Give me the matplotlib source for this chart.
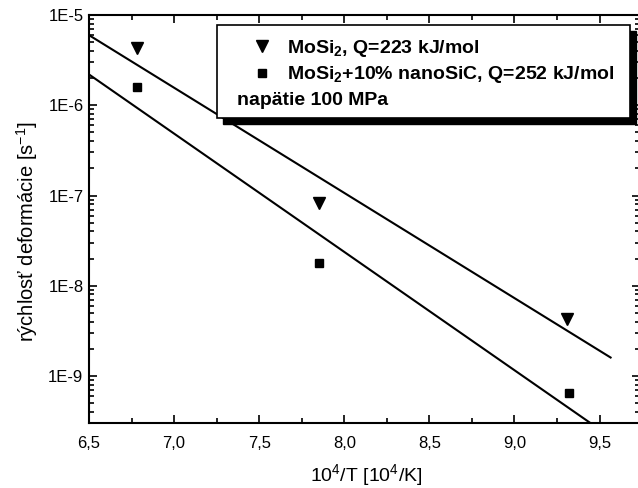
import math
import matplotlib
matplotlib.use("Agg")
import matplotlib.pyplot as plt
from matplotlib.lines import Line2D
from matplotlib.patches import Rectangle
from matplotlib.ticker import FixedLocator, LogLocator, FuncFormatter, NullFormatter

plt.rcParams['font.family'] = ['Liberation Sans', 'DejaVu Sans']
plt.rcParams['mathtext.default'] = 'regular'

# measured points (10^4/T, strain rate)
x_mosi2 = [6.78, 7.85, 9.31]
y_mosi2 = [4.3e-6, 8.3e-8, 4.3e-9]
x_nano = [6.78, 7.85, 9.32]
y_nano = [1.6e-6, 1.8e-8, 6.5e-10]

# fitted lines, read as end points
fit_x_mosi2 = [6.5, 9.565]
fit_y_mosi2 = [6.0e-6, 1.6e-9]
fit_x_nano = [6.5, 9.565]
fit_y_nano = [2.2e-6, 2.1e-10]

labels = ["MoSi$_2$, Q=223 kJ/mol", "MoSi$_2$+10% nanoSiC, Q=252 kJ/mol"]
note = "napätie 100 MPa"
xticks = [6.5, 7.0, 7.5, 8.0, 8.5, 9.0, 9.5]
xminor = [6.75, 7.25, 7.75, 8.25, 8.75, 9.25]

fig = plt.figure(figsize=(6.38, 4.88), dpi=100)
ax = fig.add_axes([0.1395, 0.133, 0.8629, 0.836])

ax.plot(fit_x_mosi2, fit_y_mosi2, color='black', lw=1.5)
ax.plot(fit_x_nano, fit_y_nano, color='black', lw=1.5)
ax.plot(x_mosi2, y_mosi2, 'kv', ms=8, ls='none')
ax.plot(x_nano, y_nano, 'ks', ms=6, ls='none')

ax.set_yscale('log')
ax.set_xlim(6.5, 9.735)
ax.set_ylim(3e-10, 1e-5)

ax.xaxis.set_major_locator(FixedLocator(xticks))
ax.xaxis.set_minor_locator(FixedLocator(xminor))
ax.xaxis.set_major_formatter(FuncFormatter(lambda v, p: f"{v:.1f}".replace('.', ',')))
ax.yaxis.set_major_locator(LogLocator(base=10, numticks=20))
ax.yaxis.set_minor_locator(LogLocator(base=10, subs=range(2, 10), numticks=20))
ax.yaxis.set_major_formatter(FuncFormatter(lambda v, p: f"1E{int(round(math.log10(v)))}"))
ax.yaxis.set_minor_formatter(NullFormatter())

ax.tick_params(which='both', direction='in', top=True, right=True, labelsize=12, width=1.2)
ax.tick_params(which='major', length=6)
ax.tick_params(which='minor', length=3.5)
ax.tick_params(axis='x', pad=9)
ax.tick_params(axis='y', pad=4)
for s in ax.spines.values():
    s.set_linewidth(1.5)

ax.set_xlabel("10$^4$/T [10$^4$/K]", fontsize=14)
ax.set_ylabel("rýchlosť deformácie [s$^{-1}$]", fontsize=14.5)
ax.xaxis.set_label_coords(0.503, -0.096)
ax.yaxis.set_label_coords(-0.089, 0.47)

# legend box with solid black shadow
bx, by, bw, bh = 0.2325, 0.7475, 0.750, 0.228
ax.add_patch(Rectangle((bx + 0.011, by - 0.015), bw, bh, transform=ax.transAxes,
                       facecolor='black', edgecolor='black', zorder=4, clip_on=False))
ax.add_patch(Rectangle((bx, by), bw, bh, transform=ax.transAxes,
                       facecolor='white', edgecolor='black', lw=1.2, zorder=5))
handles = [Line2D([], [], color='k', marker='v', ls='none', ms=8),
           Line2D([], [], color='k', marker='s', ls='none', ms=6)]
leg = ax.legend(handles, labels, loc='upper left', bbox_to_anchor=(0.264, 0.988),
                frameon=False, handlelength=1.0, handletextpad=0.79, labelspacing=0.3,
                borderpad=0.4, prop={'weight': 'bold', 'size': 14})
leg.set_zorder(6)
ax.text(0.269, 0.7917, note, transform=ax.transAxes, fontsize=14,
        fontweight='bold', va='center', ha='left', zorder=6)

fig.savefig("out.png", dpi=100)
